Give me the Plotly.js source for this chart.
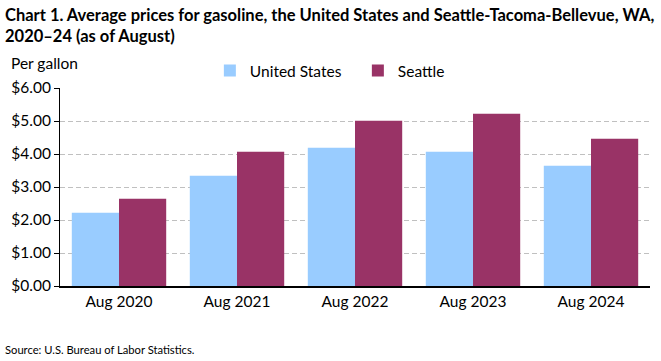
<!DOCTYPE html>
<html><head><meta charset="utf-8">
<script src="https://cdn.plot.ly/plotly-3.0.1.min.js"></script>
<style>body{margin:0;padding:0;background:#fff}#c{width:661px;height:361px}</style>
</head><body><div id="c"></div>
<script>
const categories = ["Aug 2020","Aug 2021","Aug 2022","Aug 2023","Aug 2024"];
const usValues = [2.22, 3.34, 4.19, 4.07, 3.645];
const seattleValues = [2.645, 4.07, 5.01, 5.22, 4.46];
const yTickVals = [0,1,2,3,4,5,6];
const yTickText = ["$0.00","$1.00","$2.00","$3.00","$4.00","$5.00","$6.00"];
const F = "Lato, 'Open Sans', sans-serif";
const data = [
  {type:"bar", name:"United States", x:categories, y:usValues, marker:{color:"#99ccff"}},
  {type:"bar", name:"Seattle", x:categories, y:seattleValues, marker:{color:"#993366"}}
];
const layout = {
  width:661, height:361,
  margin:{l:60, r:11, t:88, b:75},
  paper_bgcolor:"#fff", plot_bgcolor:"#fff",
  barmode:"group", bargap:0.2, bargroupgap:0,
  font:{family:F, size:15.5, color:"#000"},
  xaxis:{showline:true, linecolor:"#000", linewidth:2, ticks:"", tickfont:{size:15.5}, fixedrange:true},
  yaxis:{range:[0,6], tickvals:yTickVals, ticktext:yTickText, showgrid:true, gridcolor:"#c0c0c0",
    griddash:"5px,3px", gridwidth:1, showline:true, linecolor:"#000", linewidth:1, ticks:"outside", ticklen:5,
    tickcolor:"#000", tickfont:{size:15.5}, zeroline:false},
  legend:{orientation:"h", x:0.254, xanchor:"left", y:1.086, yanchor:"middle", font:{size:15.5}, traceorder:"normal",
    entrywidth:103, entrywidthmode:"pixels"},
  annotations:[
    {text:"<b>Chart 1. Average prices for gasoline, the United States and Seattle-Tacoma-Bellevue, WA,</b>", xref:"paper", yref:"paper", x:-0.0966, y:1.369, xanchor:"left", yanchor:"middle", showarrow:false, font:{size:16.5}},
    {text:"<b>2020–24 (as of August)</b>", xref:"paper", yref:"paper", x:-0.0966, y:1.263, xanchor:"left", yanchor:"middle", showarrow:false, font:{size:16.5}},
    {text:"Per gallon", xref:"paper", yref:"paper", x:-0.0864, y:1.126, xanchor:"left", yanchor:"middle", showarrow:false, font:{size:15.5}},
    {text:"Source: U.S. Bureau of Labor Statistics.", xref:"paper", yref:"paper", x:-0.0966, y:-0.323, xanchor:"left", yanchor:"middle", showarrow:false, font:{size:11.2}}
  ],
  showlegend:true
};
Plotly.newPlot("c", data, layout, {displayModeBar:false, staticPlot:true});
</script></body></html>
